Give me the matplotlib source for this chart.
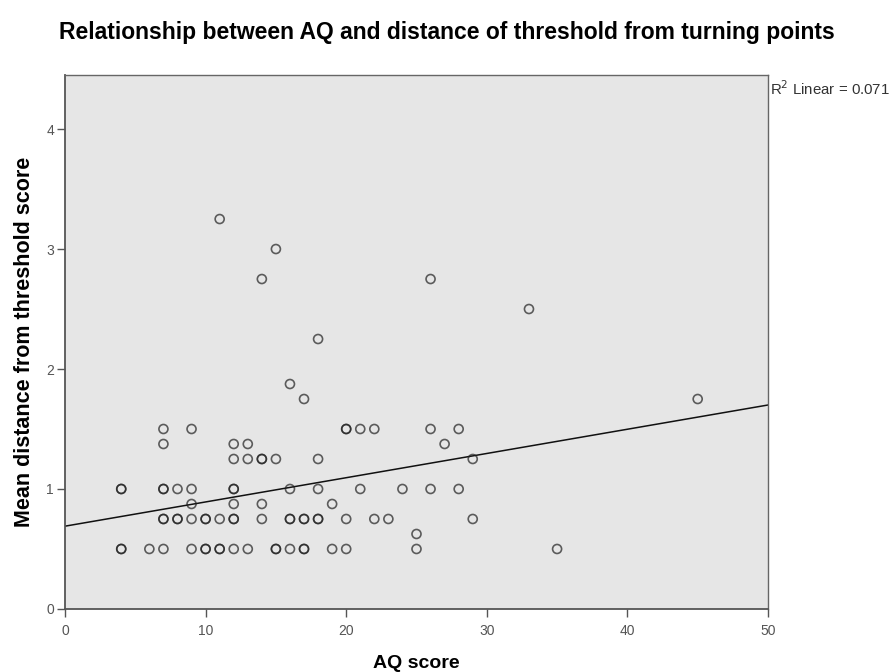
import numpy as np
import matplotlib.pyplot as plt

plt.rcParams['font.family'] = ['Liberation Sans', 'DejaVu Sans']

# AQ score vs mean distance from threshold (repeated entries = overlapping cases)
aq_score = [
    11, 15, 14, 26, 33, 18, 16, 17, 45,
    7, 9, 20, 20, 21, 22, 26, 28,
    7, 12, 13, 27,
    12, 13, 14, 14, 15, 18, 29,
    4, 4, 7, 7, 8, 9, 12, 12, 16, 18, 21, 24, 26, 28,
    9, 12, 14, 19,
    7, 7, 8, 8, 9, 10, 10, 11, 12, 12, 14, 16, 16, 17, 17, 18, 18, 20, 22, 23, 29,
    25,
    4, 4, 6, 7, 9, 10, 10, 11, 11, 12, 13, 15, 15, 16, 17, 17, 19, 20, 25, 35,
]
mean_distance = [
    3.25, 3.0, 2.75, 2.75, 2.5, 2.25, 1.875, 1.75, 1.75,
    1.5, 1.5, 1.5, 1.5, 1.5, 1.5, 1.5, 1.5,
    1.375, 1.375, 1.375, 1.375,
    1.25, 1.25, 1.25, 1.25, 1.25, 1.25, 1.25,
    1.0, 1.0, 1.0, 1.0, 1.0, 1.0, 1.0, 1.0, 1.0, 1.0, 1.0, 1.0, 1.0, 1.0,
    0.875, 0.875, 0.875, 0.875,
    0.75, 0.75, 0.75, 0.75, 0.75, 0.75, 0.75, 0.75, 0.75, 0.75, 0.75, 0.75, 0.75, 0.75, 0.75, 0.75, 0.75, 0.75, 0.75, 0.75, 0.75,
    0.625,
    0.5, 0.5, 0.5, 0.5, 0.5, 0.5, 0.5, 0.5, 0.5, 0.5, 0.5, 0.5, 0.5, 0.5, 0.5, 0.5, 0.5, 0.5, 0.5, 0.5,
]
# linear fit line (SPSS output)
fit_intercept = 0.69
fit_slope = 0.0202
r2_text = 'R$^2$ Linear = 0.071'

x = np.array(aq_score, dtype=float)
y = np.array(mean_distance, dtype=float)

fig = plt.figure(figsize=(8.93, 6.72), dpi=100)
ax = fig.add_axes([0.0728, 0.0938, 0.7872, 0.7945])
ax.set_facecolor('#e6e6e6')

ax.scatter(x, y, s=42, facecolors='none', edgecolors='#202020',
           linewidths=1.2, alpha=0.7, zorder=3)

xl = np.array([0, 50])
ax.plot(xl, fit_intercept + fit_slope * xl, color='#111111', lw=1.1, zorder=2)

ax.set_xlim(0, 50)
ax.set_ylim(0, 4.45)
ax.set_xticks([0, 10, 20, 30, 40, 50])
ax.set_yticks([0, 1, 2, 3, 4])
ax.tick_params(direction='out', length=6, width=1, color='#555555',
               labelsize=10, labelcolor='#555555')
ax.tick_params(axis='x', pad=5)
ax.tick_params(axis='y', pad=2)
for side in ['left', 'bottom']:
    ax.spines[side].set_color('#555555')
    ax.spines[side].set_linewidth(1.3)
for side in ['top', 'right']:
    ax.spines[side].set_color('#666666')
    ax.spines[side].set_linewidth(1.0)

ax.set_xlabel('AQ score', fontsize=14, fontweight='bold', labelpad=12)
ax.set_ylabel('Mean distance from threshold score', fontsize=15.5,
              fontweight='bold', labelpad=8)

fig.text(0.5, 0.952, 'Relationship between AQ and distance of threshold from turning points',
         ha='center', va='center', fontsize=16.5, fontweight='bold')
fig.text(0.862, 0.868, r2_text, ha='left', va='center', fontsize=10.8, color='#333333')

fig.savefig('out.png', dpi=100)
